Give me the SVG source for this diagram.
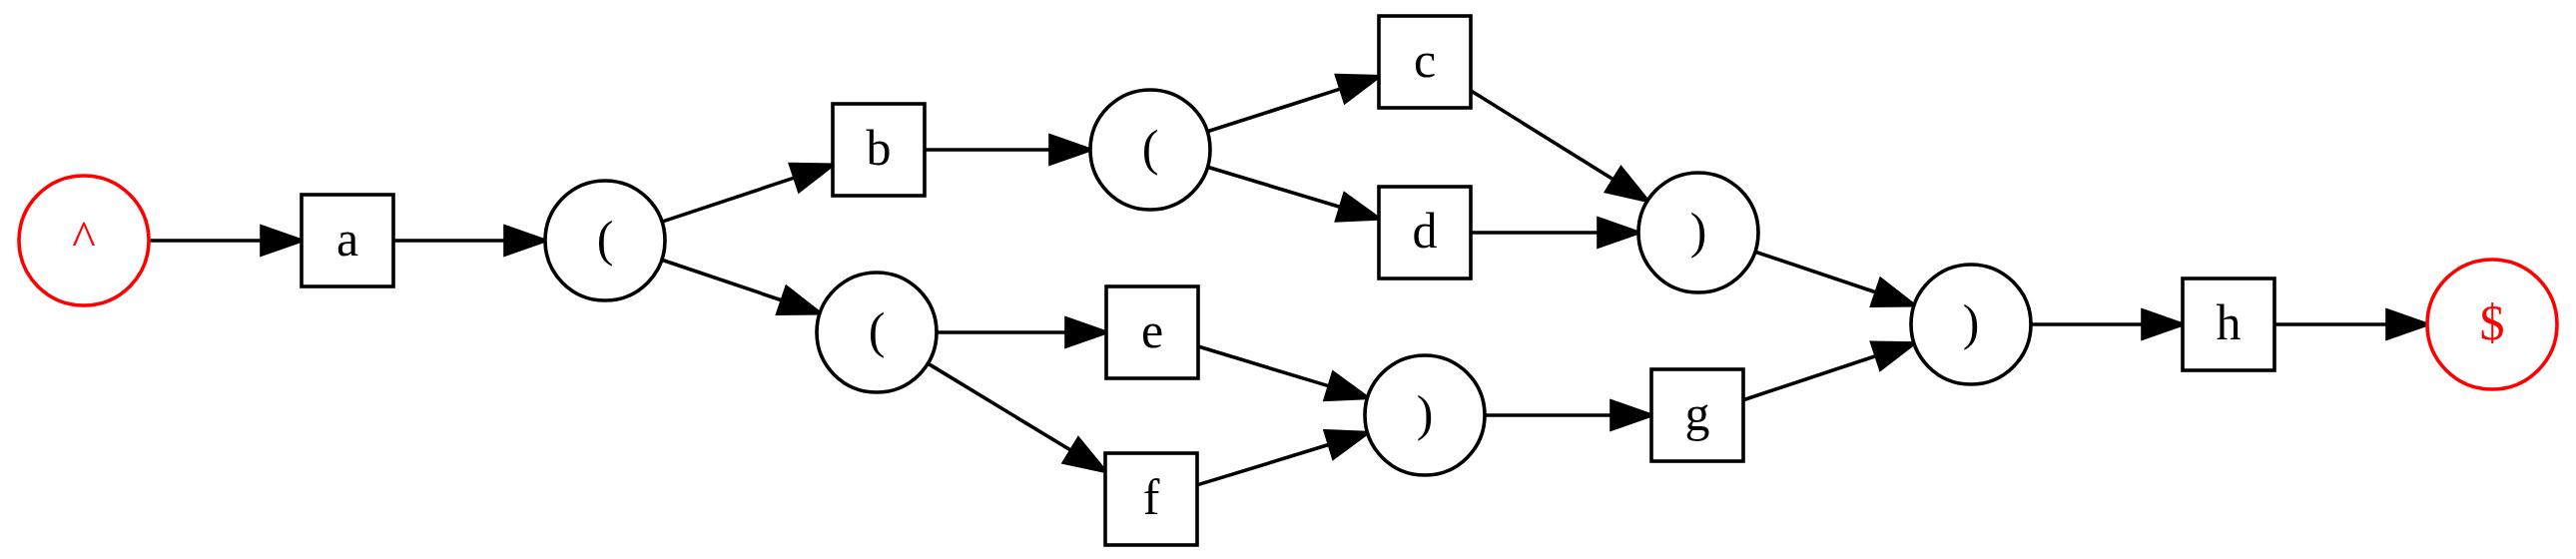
<svg xmlns="http://www.w3.org/2000/svg" width="2580" height="560" viewBox="0 0 2580 560">
<style>
.n{fill:#fff;stroke:#000;stroke-width:3.6}
.r{fill:#fff;stroke:#f00;stroke-width:3.6}
.t{font-family:"Liberation Serif","Times New Roman",serif;font-size:50px;text-anchor:middle;fill:#000}
.tr{fill:#f00}
.e{stroke:#000;stroke-width:3.6;fill:none;marker-end:url(#ah)}
.ahp{fill:#000;stroke:#000;stroke-width:3.6;stroke-linejoin:miter}
</style>
<defs>
<marker id="ah" markerUnits="userSpaceOnUse" markerWidth="60" markerHeight="40" refX="0" refY="0" viewBox="-5 -20 60 40" orient="auto" overflow="visible">
<path class="ahp" d="M0,-14 L40,0 L0,14 Z"/>
</marker>
</defs>
<rect width="2580" height="560" fill="#fff"/>
<g id="edges">
<line class="e" x1="149" y1="241" x2="262" y2="241"/>
<line class="e" x1="394" y1="241" x2="506" y2="241"/>
<line class="e" x1="663" y1="222.1" x2="796" y2="177.9"/>
<line class="e" x1="662.8" y1="260.2" x2="783.3" y2="301"/>
<line class="e" x1="926" y1="150" x2="1052" y2="150"/>
<line class="e" x1="1209.2" y1="131.7" x2="1342.9" y2="88.9"/>
<line class="e" x1="1209.4" y1="167.3" x2="1342.7" y2="207.5"/>
<line class="e" x1="938" y1="333" x2="1068" y2="333"/>
<line class="e" x1="929.3" y1="364.1" x2="1072.8" y2="451.3"/>
<line class="e" x1="1473" y1="90.7" x2="1616.2" y2="180"/>
<line class="e" x1="1473" y1="233" x2="1601" y2="233"/>
<line class="e" x1="1200" y1="347" x2="1331.3" y2="386.9"/>
<line class="e" x1="1199" y1="485.9" x2="1331.4" y2="445.3"/>
<line class="e" x1="1487" y1="416" x2="1614" y2="416"/>
<line class="e" x1="1757.9" y1="252.2" x2="1879.2" y2="293"/>
<line class="e" x1="1746" y1="400.7" x2="1879.1" y2="356.5"/>
<line class="e" x1="2034" y1="325" x2="2146" y2="325"/>
<line class="e" x1="2278" y1="325" x2="2391" y2="325"/>
</g>
<g id="start"><circle class="r" cx="84" cy="241" r="65"/><text class="t tr" x="84" y="256">^</text></g>
<g id="a"><rect class="n" x="302" y="195" width="92" height="92"/><text class="t" x="348" y="256">a</text></g>
<g id="p1"><circle class="n" cx="606" cy="241" r="60"/><text class="t" x="606" y="256">(</text></g>
<g id="b"><rect class="n" x="834" y="104" width="92" height="92"/><text class="t" x="880" y="165">b</text></g>
<g id="p2"><circle class="n" cx="1152" cy="150" r="60"/><text class="t" x="1152" y="165">(</text></g>
<g id="c"><rect class="n" x="1381" y="16" width="92" height="92"/><text class="t" x="1427" y="77">c</text></g>
<g id="d"><rect class="n" x="1381" y="187" width="92" height="92"/><text class="t" x="1427" y="248">d</text></g>
<g id="p3"><circle class="n" cx="878" cy="333" r="60"/><text class="t" x="878" y="348">(</text></g>
<g id="e"><rect class="n" x="1108" y="287" width="92" height="92"/><text class="t" x="1154" y="348">e</text></g>
<g id="f"><rect class="n" x="1107" y="454" width="92" height="92"/><text class="t" x="1153" y="515">f</text></g>
<g id="q1"><circle class="n" cx="1427" cy="416" r="60"/><text class="t" x="1427" y="431">)</text></g>
<g id="q2"><circle class="n" cx="1701" cy="233" r="60"/><text class="t" x="1701" y="248">)</text></g>
<g id="g"><rect class="n" x="1654" y="370" width="92" height="92"/><text class="t" x="1700" y="431">g</text></g>
<g id="q3"><circle class="n" cx="1974" cy="325" r="60"/><text class="t" x="1974" y="340">)</text></g>
<g id="h"><rect class="n" x="2186" y="279" width="92" height="92"/><text class="t" x="2232" y="340">h</text></g>
<g id="end"><circle class="r" cx="2496" cy="325" r="65"/><text class="t tr" x="2496" y="340">$</text></g>
</svg>
